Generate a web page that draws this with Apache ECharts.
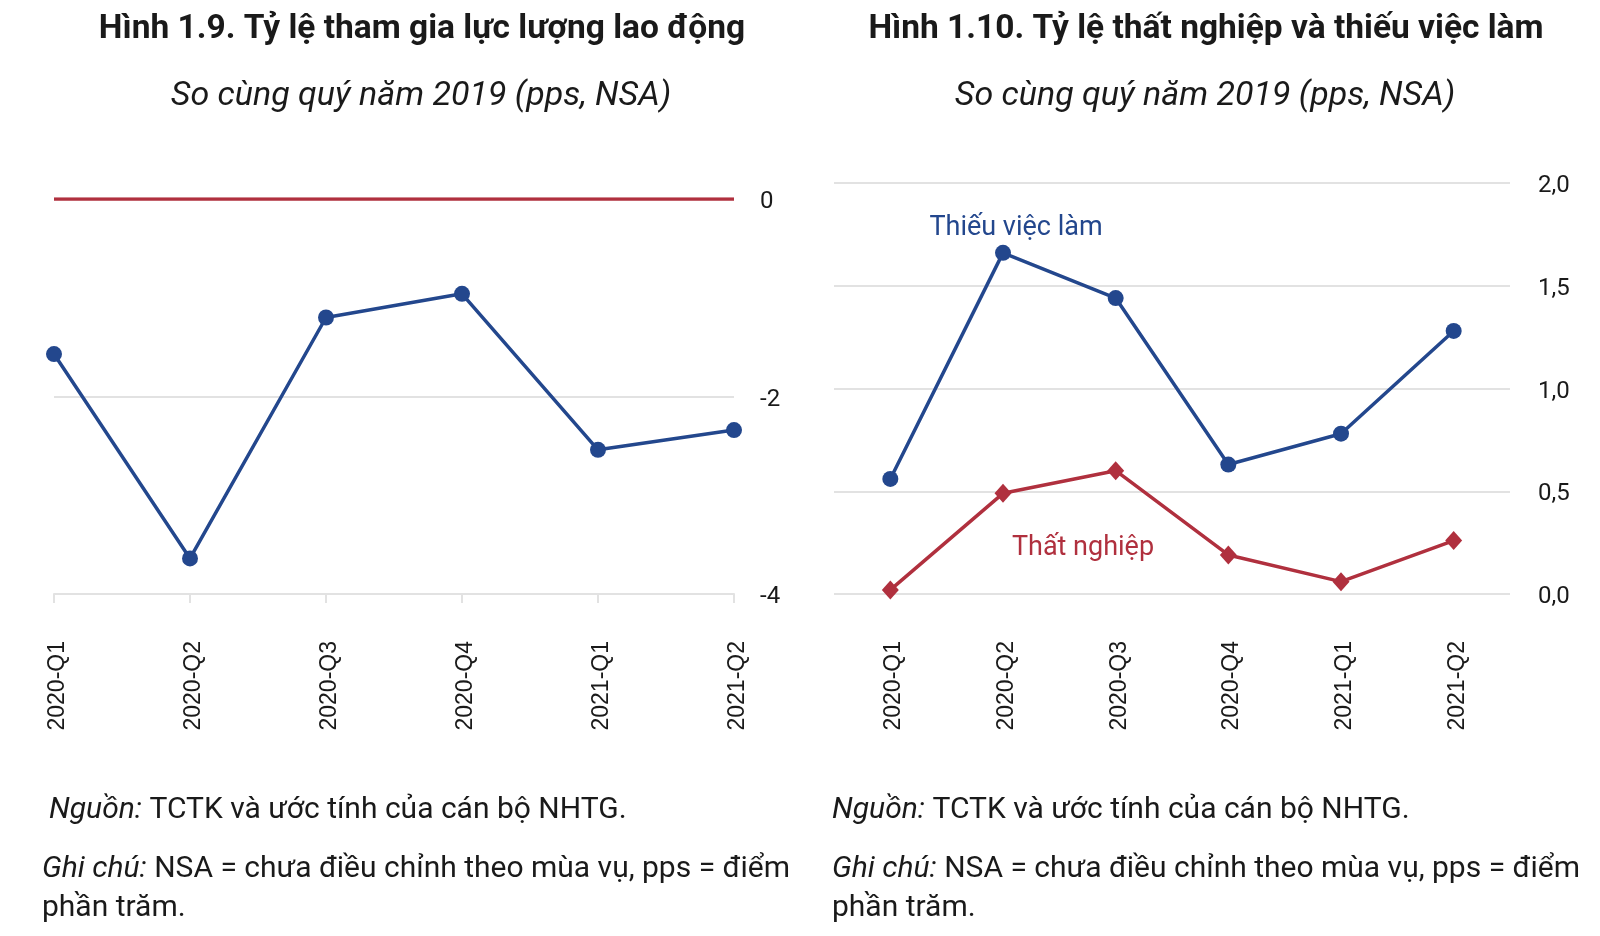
<!DOCTYPE html>
<html>
<head>
<meta charset="utf-8">
<script src="https://cdn.jsdelivr.net/npm/echarts@6/dist/echarts.min.js"></script>
<style>
html,body{margin:0;padding:0;background:#fff;}
#c{width:1600px;height:936px;}
</style>
</head>
<body>
<div id="c"></div>
<script>
const categories = ['2020-Q1','2020-Q2','2020-Q3','2020-Q4','2021-Q1','2021-Q2'];
const participation = [-1.57, -3.64, -1.20, -0.96, -2.54, -2.34];
const zeroLine = [0, 0, 0, 0, 0, 0];
const underemployment = [0.56, 1.66, 1.44, 0.63, 0.78, 1.28];
const unemployment = [0.02, 0.49, 0.60, 0.19, 0.06, 0.26];
const leftTicks = [-4, -2, 0];
const rightTicks = [0, 0.5, 1.0, 1.5, 2.0];

const BLUE = '#23478d';
const RED = '#b0303e';
const GRID = '#e2e2e2';
const TXT = '#1a1a1a';

const chart = echarts.init(document.getElementById('c'));

const xLabel = {rotate: 90, margin: 47, color: TXT,
  formatter: v => '{a|' + v + '}',
  rich: {a: {fontSize: 23, color: TXT, fontFamily: 'Liberation Sans', padding: [7, 0, 0, 0]}}};
const yRich = {a: {fontSize: 24, color: TXT, fontFamily: 'Roboto', padding: [6, 0, 0, 0]}};

function txt(x, y, text, opts) {
  return {type: 'text', x: x, y: y, style: Object.assign({text: text, fill: TXT, fontFamily: 'Roboto'}, opts)};
}
const FN = 30;
const rich = {i: {fontStyle: 'italic', fontSize: FN, fontFamily: 'Roboto', fill: TXT}};

chart.setOption({
  animation: false,
  backgroundColor: '#fff',
  grid: [
    {left: 54, right: 866, top: 199, bottom: 342},
    {left: 834, right: 90, top: 183, bottom: 342}
  ],
  xAxis: [
    {type: 'category', gridIndex: 0, data: categories, boundaryGap: false,
     axisLine: {show: true, onZero: false, lineStyle: {color: GRID, width: 2}},
     axisTick: {show: true, length: 9, lineStyle: {color: GRID, width: 2}},
     axisLabel: xLabel, splitLine: {show: false}},
    {type: 'category', gridIndex: 1, data: categories, boundaryGap: true,
     axisLine: {show: false, onZero: false}, axisTick: {show: false},
     axisLabel: xLabel, splitLine: {show: false}}
  ],
  yAxis: [
    {type: 'value', gridIndex: 0, position: 'right', min: leftTicks[0], max: leftTicks[leftTicks.length-1], interval: 2,
     axisLine: {show: false}, axisTick: {show: false},
     axisLabel: {margin: 26, formatter: v => '{a|' + v + '}', rich: yRich},
     splitLine: {show: true, lineStyle: {color: GRID, width: 2}}},
    {type: 'value', gridIndex: 1, position: 'right', min: rightTicks[0], max: rightTicks[rightTicks.length-1], interval: 0.5,
     axisLine: {show: false}, axisTick: {show: false},
     axisLabel: {margin: 28, formatter: v => '{a|' + v.toFixed(1).replace('.', ',') + '}', rich: yRich},
     splitLine: {show: true, lineStyle: {color: GRID, width: 2}}}
  ],
  series: [
    {type: 'line', xAxisIndex: 0, yAxisIndex: 0, data: zeroLine, showSymbol: false,
     lineStyle: {color: RED, width: 3.5}, itemStyle: {color: RED}},
    {type: 'line', xAxisIndex: 0, yAxisIndex: 0, data: participation, symbol: 'circle', symbolSize: 16,
     lineStyle: {color: BLUE, width: 3.5}, itemStyle: {color: BLUE}},
    {type: 'line', xAxisIndex: 1, yAxisIndex: 1, data: underemployment, symbol: 'circle', symbolSize: 16,
     lineStyle: {color: BLUE, width: 3.5}, itemStyle: {color: BLUE}},
    {type: 'line', xAxisIndex: 1, yAxisIndex: 1, data: unemployment, symbol: 'diamond', symbolSize: [17, 19],
     lineStyle: {color: RED, width: 3.5}, itemStyle: {color: RED}}
  ],
  graphic: [
    txt(422, 30, 'Hình 1.9. Tỷ lệ tham gia lực lượng lao động', {fontSize: 33.5, fontWeight: 'bold', align: 'center', verticalAlign: 'middle'}),
    txt(421, 96, 'So cùng quý năm 2019 (pps, NSA)', {fontSize: 34, fontStyle: 'italic', align: 'center', verticalAlign: 'middle'}),
    txt(1206, 30, 'Hình 1.10. Tỷ lệ thất nghiệp và thiếu việc làm', {fontSize: 33.5, fontWeight: 'bold', align: 'center', verticalAlign: 'middle'}),
    txt(1205, 96, 'So cùng quý năm 2019 (pps, NSA)', {fontSize: 34, fontStyle: 'italic', align: 'center', verticalAlign: 'middle'}),
    txt(1016, 228, 'Thiếu việc làm', {fontSize: 27, fill: BLUE, align: 'center', verticalAlign: 'middle'}),
    txt(1083, 548, 'Thất nghiệp', {fontSize: 27, fill: RED, align: 'center', verticalAlign: 'middle'}),
    txt(49, 810, '{i|Nguồn:} TCTK và ước tính của cán bộ NHTG.', {fontSize: FN, verticalAlign: 'middle', rich: rich}),
    txt(42, 869, '{i|Ghi chú:} NSA = chưa điều chỉnh theo mùa vụ, pps = điểm', {fontSize: FN, verticalAlign: 'middle', rich: rich}),
    txt(42, 908, 'phần trăm.', {fontSize: FN, verticalAlign: 'middle'}),
    txt(832, 810, '{i|Nguồn:} TCTK và ước tính của cán bộ NHTG.', {fontSize: FN, verticalAlign: 'middle', rich: rich}),
    txt(832, 869, '{i|Ghi chú:} NSA = chưa điều chỉnh theo mùa vụ, pps = điểm', {fontSize: FN, verticalAlign: 'middle', rich: rich}),
    txt(832, 908, 'phần trăm.', {fontSize: FN, verticalAlign: 'middle'})
  ]
});
</script>
</body>
</html>
